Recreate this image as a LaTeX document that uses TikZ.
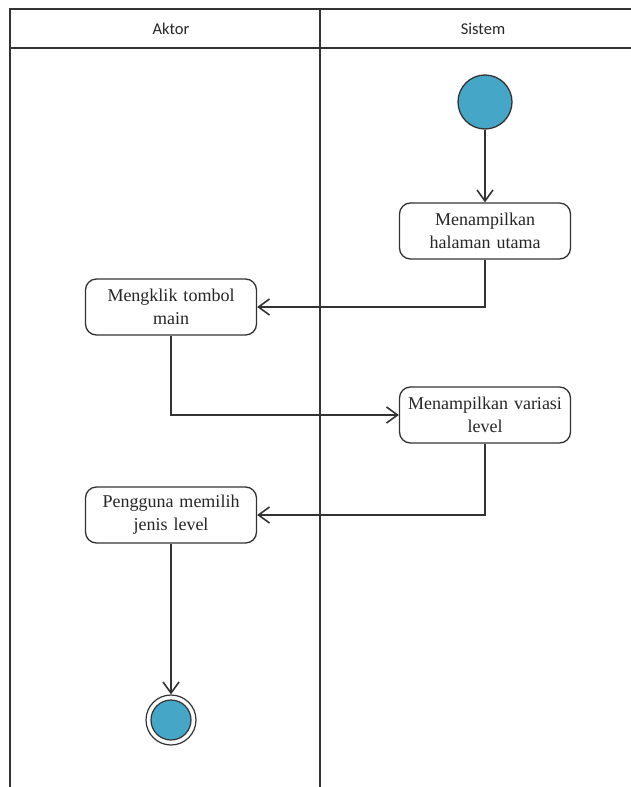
\documentclass[tikz,border=0pt]{standalone}
\usepackage{fontspec}
\setmainfont{Liberation Serif}
\newfontfamily\headfont{Carlito}
\usetikzlibrary{arrows.meta}

\definecolor{linegray}{HTML}{333333}
\definecolor{dotblue}{HTML}{45A6C7}

\tikzset{
  lane/.style={draw=linegray, line width=1.8pt},
  lanetitle/.style={font=\headfont\fontsize{16.5}{19}\selectfont, text=black!85},
  actbox/.style={draw=linegray, line width=1.3pt, rounded corners=11pt, fill=white,
    minimum width=171pt, minimum height=56pt, text width=168pt, align=center,
    inner sep=0pt, font=\fontsize{18}{23}\selectfont, text=black!85},
  flow/.style={draw=linegray, line width=1.8pt,
    -{Straight Barb[length=11pt, width=16pt, line width=1.6pt]}},
  startdot/.style={circle, draw=linegray, line width=1.3pt, fill=dotblue,
    minimum size=54pt, inner sep=0pt},
  enddot/.style={circle, draw=linegray, line width=1.2pt, fill=white,
    minimum size=50pt, inner sep=0pt},
}

\begin{document}
\begin{tikzpicture}[x=1pt, y=-1pt]
  \useasboundingbox (0,0) rectangle (631,787);

  % swimlane frame
  \draw[lane] (631,9) -- (10,9) -- (10,787);
  \draw[lane] (10,48) -- (631,48);
  \draw[lane] (320,9) -- (320,787);
  \node[lanetitle] (aktor) at (171,28.5) {Aktor};
  \node[lanetitle] (sistem) at (483,28.5) {Sistem};

  % activities
  \node[startdot] (start) at (485,102) {};
  \node[actbox] (b1) at (485,231) {Menampilkan\\halaman utama};
  \node[actbox] (b2) at (171,307) {Mengklik tombol\\main};
  \node[actbox] (b3) at (485,415) {Menampilkan variasi\\level};
  \node[actbox] (b4) at (171,515) {Pengguna memilih\\jenis level};

  % final node
  \node[enddot] (end) at (171,720) {};
  \node[circle, draw=linegray, line width=1.2pt, fill=dotblue,
        minimum size=40pt, inner sep=0pt] (endcore) at (end) {};

  % control flow
  \draw[flow] (start) -- (b1);
  \draw[flow] (b1.south) |- (b2.east);
  \draw[flow] (b2.south) |- (b3.west);
  \draw[flow] (b3.south) |- (b4.east);
  \draw[flow] (b4) -- (end);
\end{tikzpicture}
\end{document}
